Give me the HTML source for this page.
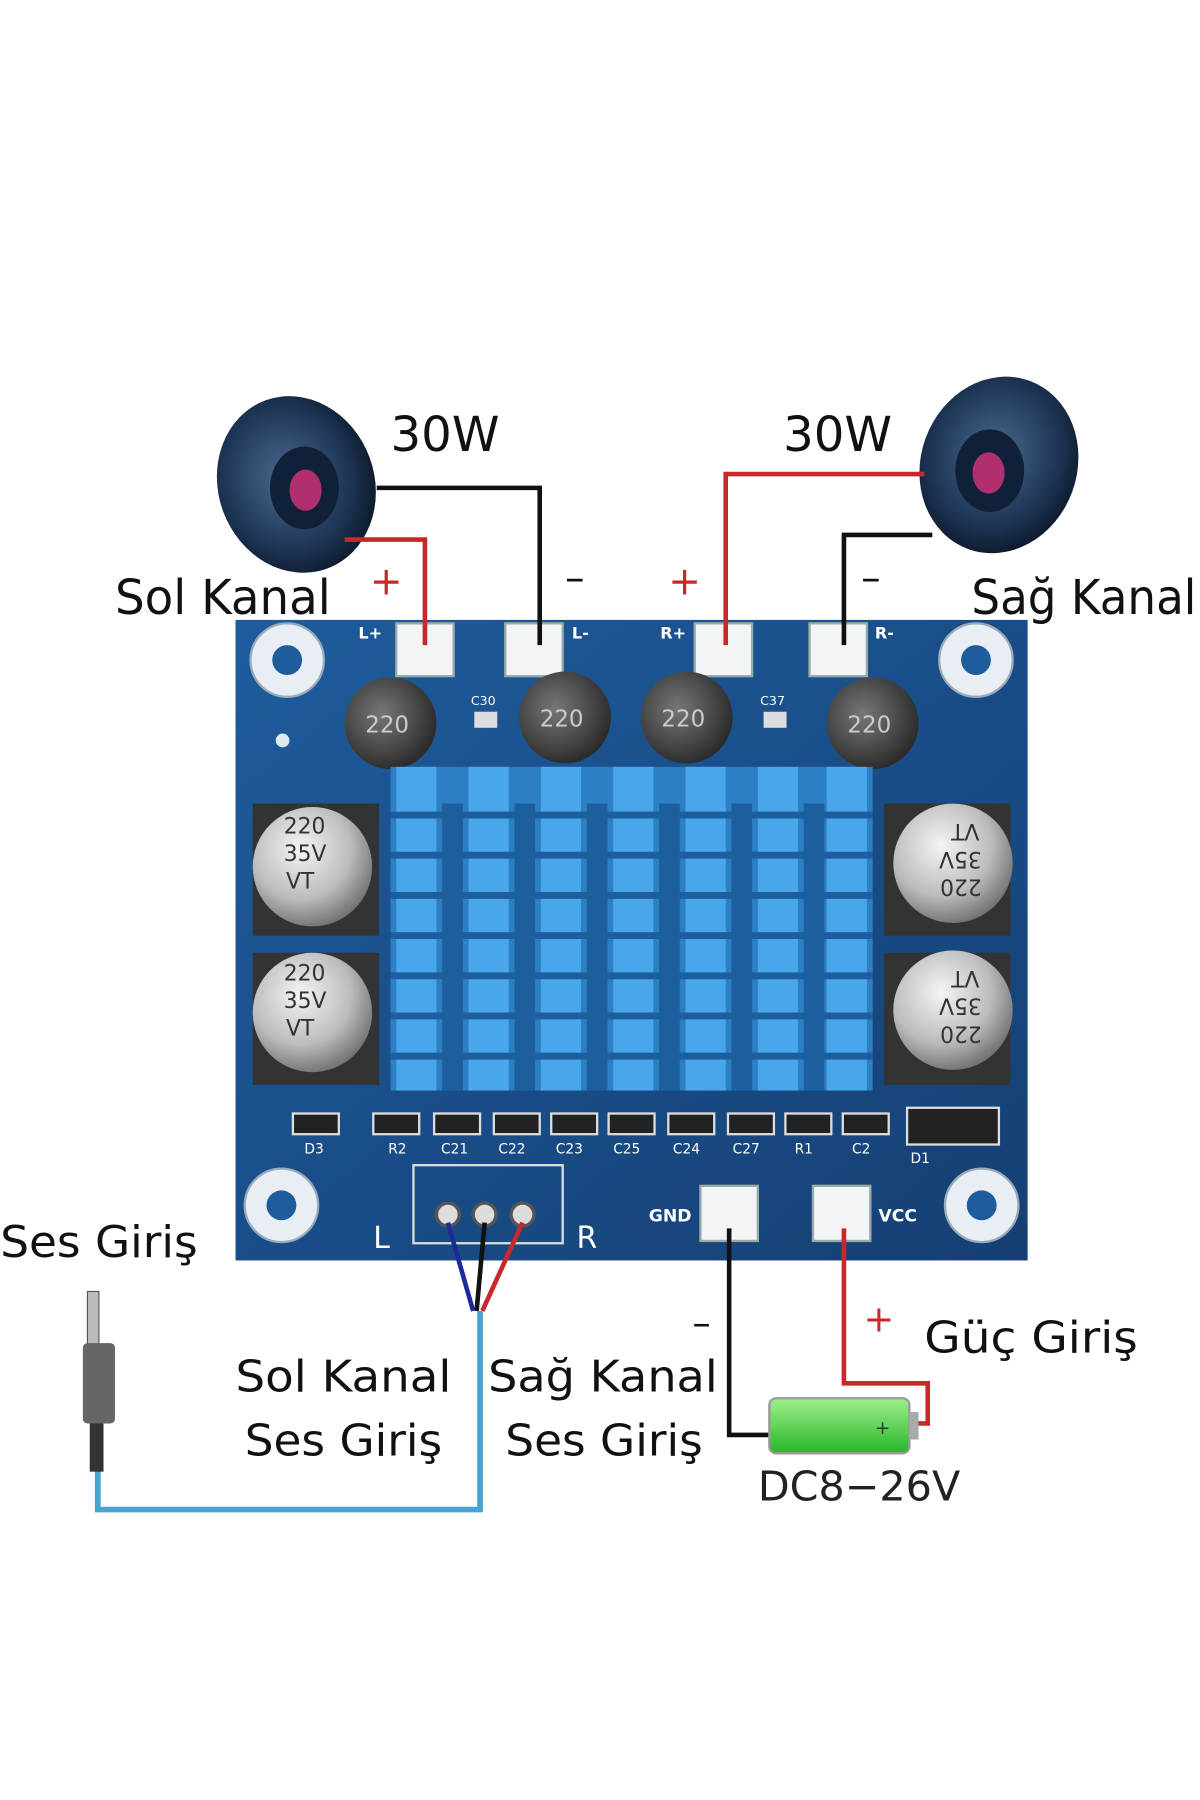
<!DOCTYPE html>
<html><head><meta charset="utf-8"><style>
html,body{margin:0;padding:0;background:#fff;width:1200px;height:1800px;overflow:hidden}
svg{display:block}
text{font-family:"DejaVu Sans","Liberation Sans",sans-serif}
</style></head><body>
<svg width="1200" height="1800" viewBox="0 0 1045 1568" xmlns="http://www.w3.org/2000/svg">
<defs>
<radialGradient id="spk" cx="0.45" cy="0.45" r="0.6"><stop offset="0" stop-color="#4a6a90"/><stop offset="0.7" stop-color="#1c3352"/><stop offset="1" stop-color="#0b1626"/></radialGradient>
<radialGradient id="cap" cx="0.4" cy="0.35" r="0.7"><stop offset="0" stop-color="#f4f4f4"/><stop offset="0.6" stop-color="#bcbcbc"/><stop offset="1" stop-color="#6a6a6a"/></radialGradient>
<radialGradient id="ind" cx="0.4" cy="0.4" r="0.7"><stop offset="0" stop-color="#777"/><stop offset="1" stop-color="#222"/></radialGradient>
<linearGradient id="pcb" x1="0" y1="0" x2="1" y2="1"><stop offset="0" stop-color="#1e5c9c"/><stop offset="1" stop-color="#153f74"/></linearGradient>
<linearGradient id="bat" x1="0" y1="0" x2="0" y2="1"><stop offset="0" stop-color="#9ef08a"/><stop offset="1" stop-color="#27b52a"/></linearGradient>
</defs>
<rect width="1045" height="1568" fill="#fff"/>

<rect x="205" y="540" width="690" height="558" fill="url(#pcb)"/>
<g fill="#e8eef4" stroke="#9ab" stroke-width="2">
<circle cx="250" cy="575" r="32"/><circle cx="850" cy="575" r="32"/>
<circle cx="245" cy="1050" r="32"/><circle cx="855" cy="1050" r="32"/></g>
<g fill="#1e5c9c"><circle cx="250" cy="575" r="13"/><circle cx="850" cy="575" r="13"/><circle cx="245" cy="1050" r="13"/><circle cx="855" cy="1050" r="13"/></g>
<circle cx="246" cy="645" r="6" fill="#e0e8f0"/>

<g fill="#f2f4f6" stroke="#9aa" stroke-width="2">
<rect x="345" y="543" width="50" height="46"/><rect x="440" y="543" width="50" height="46"/>
<rect x="605" y="543" width="50" height="46"/><rect x="705" y="543" width="50" height="46"/></g>
<g fill="#fff" font-size="14" font-weight="bold"><text x="312" y="556">L+</text><text x="498" y="556">L-</text><text x="575" y="556">R+</text><text x="762" y="556">R-</text></g>

<g fill="url(#ind)"><circle cx="340" cy="630" r="40"/><circle cx="492" cy="625" r="40"/><circle cx="598" cy="625" r="40"/><circle cx="760" cy="630" r="40"/></g>
<g fill="#ccc" font-size="20"><text x="318" y="638">220</text><text x="470" y="633">220</text><text x="576" y="633">220</text><text x="738" y="638">220</text></g>
<g fill="#ddd"><rect x="413" y="620" width="20" height="14"/><rect x="665" y="620" width="20" height="14"/></g>
<g fill="#fff" font-size="11"><text x="410" y="614">C30</text><text x="662" y="614">C37</text></g>

<rect x="340" y="668" width="420" height="282" fill="#2d7fc4"/>
<g fill="#4aa6ea">
<rect x="345" y="668" width="35" height="282"/><rect x="408" y="668" width="35" height="282"/><rect x="471" y="668" width="35" height="282"/><rect x="534" y="668" width="35" height="282"/><rect x="597" y="668" width="35" height="282"/><rect x="660" y="668" width="35" height="282"/><rect x="720" y="668" width="35" height="282"/></g>
<g fill="#1d5f9c">
<rect x="385" y="700" width="18" height="250"/><rect x="448" y="700" width="18" height="250"/><rect x="511" y="700" width="18" height="250"/><rect x="574" y="700" width="18" height="250"/><rect x="637" y="700" width="18" height="250"/><rect x="700" y="700" width="18" height="250"/></g>
<g stroke="#1d5f9c" stroke-width="6">
<line x1="340" y1="710" x2="760" y2="710"/><line x1="340" y1="745" x2="760" y2="745"/><line x1="340" y1="780" x2="760" y2="780"/><line x1="340" y1="815" x2="760" y2="815"/><line x1="340" y1="850" x2="760" y2="850"/><line x1="340" y1="885" x2="760" y2="885"/><line x1="340" y1="920" x2="760" y2="920"/></g>

<g fill="#333"><rect x="220" y="700" width="110" height="115"/><rect x="220" y="830" width="110" height="115"/><rect x="770" y="700" width="110" height="115"/><rect x="770" y="830" width="110" height="115"/></g>
<g fill="url(#cap)"><circle cx="272" cy="755" r="52"/><circle cx="272" cy="882" r="52"/><circle cx="830" cy="752" r="52"/><circle cx="830" cy="880" r="52"/></g>
<g fill="#333" font-size="19"><text x="247" y="726">220</text><text x="247" y="750">35V</text><text x="249" y="774">VT</text>
<text x="247" y="854">220</text><text x="247" y="878">35V</text><text x="249" y="902">VT</text></g>
<g fill="#333" font-size="19" transform="rotate(180 830 752)"><text x="805" y="738">220</text><text x="805" y="762">35V</text><text x="807" y="786">VT</text></g>
<g fill="#333" font-size="19" transform="rotate(180 830 880)"><text x="805" y="866">220</text><text x="805" y="890">35V</text><text x="807" y="914">VT</text></g>

<g fill="#222" stroke="#ddd" stroke-width="2">
<rect x="255" y="970" width="40" height="18"/><rect x="325" y="970" width="40" height="18"/><rect x="378" y="970" width="40" height="18"/><rect x="430" y="970" width="40" height="18"/><rect x="480" y="970" width="40" height="18"/><rect x="530" y="970" width="40" height="18"/><rect x="582" y="970" width="40" height="18"/><rect x="634" y="970" width="40" height="18"/><rect x="684" y="970" width="40" height="18"/><rect x="734" y="970" width="40" height="18"/><rect x="790" y="965" width="80" height="32"/></g>
<g fill="#fff" font-size="12"><text x="265" y="1005">D3</text><text x="338" y="1005">R2</text><text x="384" y="1005">C21</text><text x="434" y="1005">C22</text><text x="484" y="1005">C23</text><text x="534" y="1005">C25</text><text x="586" y="1005">C24</text><text x="638" y="1005">C27</text><text x="692" y="1005">R1</text><text x="742" y="1005">C2</text><text x="793" y="1013">D1</text></g>

<rect x="360" y="1015" width="130" height="68" fill="none" stroke="#ddd" stroke-width="2"/>
<g fill="#ddd" stroke="#555" stroke-width="3"><circle cx="390" cy="1058" r="10"/><circle cx="422" cy="1058" r="10"/><circle cx="455" cy="1058" r="10"/></g>
<g fill="#fff" font-size="26"><text x="325" y="1087">L</text><text x="502" y="1087">R</text></g>

<g fill="#f2f4f6" stroke="#9aa" stroke-width="2"><rect x="610" y="1033" width="50" height="48"/><rect x="708" y="1033" width="50" height="48"/></g>
<g fill="#fff" font-size="15" font-weight="bold"><text x="565" y="1064">GND</text><text x="765" y="1064">VCC</text></g>

<ellipse cx="258" cy="422" rx="68" ry="78" fill="url(#spk)" transform="rotate(-20 258 422)"/>
<ellipse cx="265" cy="425" rx="30" ry="36" fill="#102038"/>
<ellipse cx="266" cy="427" rx="14" ry="18" fill="#b0306f"/>
<ellipse cx="870" cy="405" rx="68" ry="78" fill="url(#spk)" transform="rotate(20 870 405)"/>
<ellipse cx="862" cy="410" rx="30" ry="36" fill="#102038"/>
<ellipse cx="861" cy="412" rx="14" ry="18" fill="#b0306f"/>

<g fill="none" stroke-width="4">
<polyline points="300,470 370,470 370,562" stroke="#c8282a"/>
<polyline points="328,425 470,425 470,562" stroke="#111"/>
<polyline points="632,562 632,413 805,413" stroke="#c8282a"/>
<polyline points="735,562 735,466 812,466" stroke="#111"/>
</g>

<g fill="#111" font-size="42"><text x="340" y="393">30W</text><text x="682" y="393">30W</text>
<text x="100" y="535" textLength="188" lengthAdjust="spacingAndGlyphs">Sol Kanal</text><text x="846" y="535" textLength="196" lengthAdjust="spacingAndGlyphs">Sağ Kanal</text></g>
<g font-size="34"><text x="322" y="518" fill="#c8282a">+</text><text x="492" y="515" fill="#111">–</text><text x="582" y="518" fill="#c8282a">+</text><text x="750" y="515" fill="#111">–</text></g>

<g fill="none" stroke-width="4">
<line x1="390" y1="1065" x2="412" y2="1142" stroke="#1c2a9c"/>
<line x1="422" y1="1065" x2="415" y2="1142" stroke="#111"/>
<line x1="455" y1="1065" x2="420" y2="1142" stroke="#c8282a"/>
<polyline points="85,1280 85,1315 418,1315 418,1142" stroke="#49a3d2" stroke-width="5"/>
</g>
<rect x="76" y="1125" width="10" height="50" fill="#bbb" stroke="#555"/>
<rect x="72" y="1170" width="28" height="70" fill="#666" rx="4"/>
<rect x="78" y="1240" width="12" height="42" fill="#333"/>

<g fill="none" stroke-width="4">
<polyline points="635,1070 635,1250 672,1250" stroke="#111"/>
<polyline points="735,1070 735,1205 808,1205 808,1240 798,1240" stroke="#c8282a"/>
</g>
<rect x="670" y="1218" width="122" height="48" rx="6" fill="url(#bat)" stroke="#999" stroke-width="2"/>
<rect x="792" y="1230" width="8" height="24" fill="#aaa"/>
<text x="762" y="1249" font-size="16" fill="#333">+</text>

<g fill="#111" font-size="38"><text x="0" y="1095" textLength="172" lengthAdjust="spacingAndGlyphs">Ses Giriş</text>
<text x="205" y="1212" textLength="188" lengthAdjust="spacingAndGlyphs">Sol Kanal</text><text x="213" y="1268" textLength="172" lengthAdjust="spacingAndGlyphs">Ses Giriş</text>
<text x="425" y="1212" textLength="200" lengthAdjust="spacingAndGlyphs">Sağ Kanal</text><text x="440" y="1268" textLength="172" lengthAdjust="spacingAndGlyphs">Ses Giriş</text>
<text x="805" y="1178" textLength="186" lengthAdjust="spacingAndGlyphs">Güç Giriş</text></g>
<text x="660" y="1307" font-size="36" fill="#222">DC8−26V</text>
<text x="603" y="1163" font-size="32" fill="#111">–</text>
<text x="752" y="1160" font-size="32" fill="#c8282a">+</text>
</svg>
</body></html>
